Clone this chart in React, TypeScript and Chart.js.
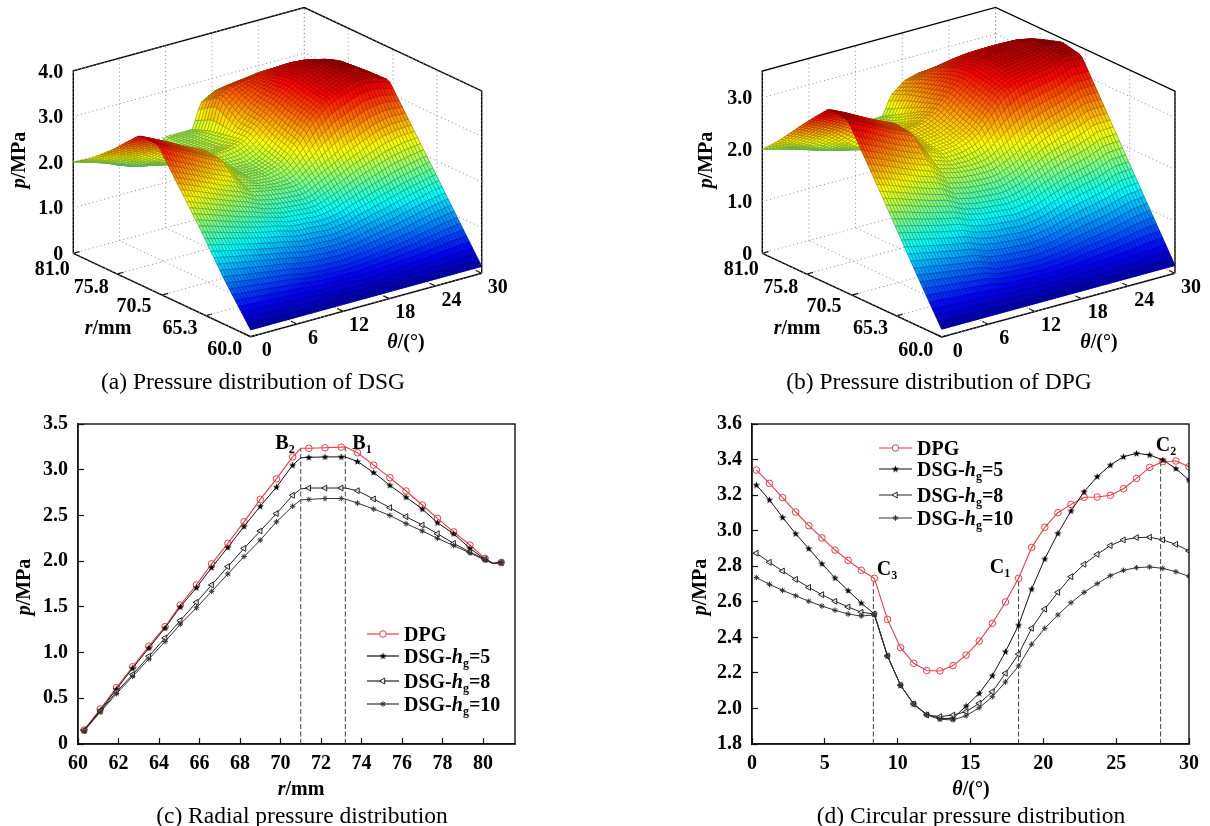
import React, { useEffect, useRef } from 'react';
import { Chart, registerables } from 'chart.js';
import { drawPoint } from 'chart.js/helpers';

Chart.register(...registerables);

// ---------- Panels (c) radial pressure ----------
const radialR = [60.3, 61.1, 61.9, 62.7, 63.5, 64.3, 65.05, 65.85, 66.6, 67.4, 68.2, 69, 69.8, 70.6, 71, 71.4, 72.2, 73, 73.2, 73.8, 74.6, 75.4, 76.2, 77, 77.75, 78.55, 79.35, 80.1, 80.5, 80.9];
const radialKnots = [71, 73.2, 80.5];
const radialDPG = [0.153, 0.383, 0.616, 0.845, 1.07, 1.283, 1.52, 1.74, 1.97, 2.195, 2.43, 2.676, 2.9, 3.14, 3.234, 3.234, 3.24, 3.247, 3.25, 3.186, 3.05, 2.913, 2.767, 2.614, 2.468, 2.32, 2.177, 2.03, 1.976, 1.985];
const radialH5 = [0.15, 0.37, 0.6, 0.83, 1.05, 1.27, 1.5, 1.71, 1.93, 2.15, 2.38, 2.6, 2.81, 3.05, 3.13, 3.135, 3.14, 3.14, 3.14, 3.09, 2.97, 2.83, 2.7, 2.57, 2.42, 2.3, 2.14, 2.02, 1.975, 1.985];
const radialH8 = [0.15, 0.36, 0.57, 0.76, 0.96, 1.16, 1.35, 1.55, 1.74, 1.94, 2.14, 2.33, 2.52, 2.72, 2.79, 2.8, 2.8, 2.8, 2.8, 2.77, 2.68, 2.585, 2.486, 2.395, 2.3, 2.195, 2.1, 2.02, 1.975, 1.985];
const radialH10 = [0.14, 0.35, 0.55, 0.74, 0.93, 1.12, 1.31, 1.49, 1.67, 1.86, 2.05, 2.23, 2.43, 2.6, 2.67, 2.675, 2.685, 2.685, 2.68, 2.635, 2.57, 2.5, 2.41, 2.33, 2.25, 2.17, 2.09, 2.01, 1.975, 1.985];

// ---------- Panel (d) circular pressure ----------
const circT = [0.3, 1.2, 2.1, 3, 3.9, 4.8, 5.7, 6.6, 7.5, 8.4, 9.3, 10.2, 11.1, 12, 12.9, 13.8, 14.7, 15.6, 16.5, 17.4, 18.3, 19.2, 20.1, 21, 21.9, 22.8, 23.7, 24.6, 25.5, 26.4, 27.3, 28.2, 29.1, 30];
const circDPG = [3.341, 3.266, 3.186, 3.105, 3.028, 2.959, 2.891, 2.833, 2.777, 2.732, 2.501, 2.342, 2.254, 2.213, 2.211, 2.241, 2.3, 2.379, 2.479, 2.599, 2.732, 2.906, 3.019, 3.101, 3.148, 3.188, 3.189, 3.199, 3.236, 3.294, 3.356, 3.388, 3.392, 3.36];
const circH5 = [3.257, 3.173, 3.075, 2.983, 2.899, 2.814, 2.734, 2.663, 2.593, 2.531, 2.295, 2.13, 2.025, 1.967, 1.944, 1.944, 2.014, 2.085, 2.184, 2.319, 2.469, 2.672, 2.841, 2.985, 3.111, 3.219, 3.304, 3.369, 3.416, 3.435, 3.426, 3.398, 3.349, 3.285];
const circH8 = [2.873, 2.822, 2.773, 2.726, 2.681, 2.64, 2.603, 2.571, 2.541, 2.531, 2.295, 2.13, 2.025, 1.963, 1.954, 1.963, 1.982, 2.029, 2.094, 2.198, 2.306, 2.451, 2.559, 2.653, 2.741, 2.811, 2.867, 2.916, 2.948, 2.961, 2.963, 2.948, 2.923, 2.886];
const circH10 = [2.736, 2.698, 2.664, 2.634, 2.603, 2.576, 2.552, 2.531, 2.52, 2.526, 2.295, 2.13, 2.025, 1.963, 1.939, 1.935, 1.959, 2.004, 2.066, 2.149, 2.239, 2.361, 2.451, 2.526, 2.595, 2.653, 2.702, 2.747, 2.777, 2.792, 2.796, 2.788, 2.769, 2.743];

// ---------- Panels (a), (b) surfaces: p[r][theta] ----------
const surfTheta = [0, 2, 4, 6, 8.3, 10, 12, 14, 15.5, 16.5, 18.3, 20, 22, 24, 26, 28, 30];
const surfR = [60, 63, 66, 69, 71, 73.2, 75, 76.5, 79, 81];
const surfDSG = [
  [0.15, 0.15, 0.15, 0.15, 0.15, 0.15, 0.15, 0.15, 0.15, 0.15, 0.15, 0.15, 0.15, 0.15, 0.15, 0.15, 0.15],
  [0.95, 0.9, 0.85, 0.8, 0.75, 0.68, 0.64, 0.62, 0.62, 0.63, 0.66, 0.7, 0.75, 0.8, 0.88, 0.95, 1.0],
  [1.85, 1.75, 1.65, 1.55, 1.45, 1.4, 1.3, 1.28, 1.25, 1.25, 1.3, 1.4, 1.5, 1.6, 1.7, 1.78, 1.86],
  [2.69, 2.55, 2.4, 2.25, 2.1, 1.92, 1.85, 1.8, 1.78, 1.82, 2.0, 2.15, 2.35, 2.5, 2.65, 2.72, 2.71],
  [3.26, 3.08, 2.9, 2.72, 2.53, 2.13, 1.97, 1.95, 2.02, 2.12, 2.47, 2.85, 3.15, 3.3, 3.42, 3.4, 3.28],
  [3.26, 3.1, 2.93, 2.75, 2.58, 2.2, 2.02, 2.0, 2.1, 2.25, 2.6, 2.95, 3.22, 3.38, 3.5, 3.48, 3.26],
  [2.93, 2.78, 2.62, 2.45, 2.3, 2.2, 2.15, 2.2, 2.3, 2.45, 2.75, 3.05, 3.3, 3.45, 3.52, 3.45, 3.2],
  [2.65, 2.5, 2.35, 2.15, 1.95, 2.0, 2.05, 2.1, 2.25, 2.45, 2.8, 3.05, 3.25, 3.38, 3.42, 3.35, 3.17],
  [2.25, 2.1, 1.95, 1.8, 1.72, 1.85, 2.0, 2.05, 2.15, 2.8, 3.0, 3.05, 3.08, 3.12, 3.15, 3.12, 3.02],
  [2.0, 1.9, 1.8, 1.65, 1.55, 1.75, 2.0, 2.0, 2.0, 2.53, 2.71, 2.76, 2.8, 2.85, 2.85, 2.85, 2.85],
];
const surfDPG = [
  [0.15, 0.15, 0.15, 0.15, 0.15, 0.15, 0.15, 0.15, 0.15, 0.15, 0.15, 0.15, 0.15, 0.15, 0.15, 0.15, 0.15],
  [1.0, 0.95, 0.9, 0.85, 0.8, 0.7, 0.66, 0.64, 0.63, 0.64, 0.67, 0.72, 0.78, 0.83, 0.9, 0.98, 1.02],
  [1.89, 1.81, 1.72, 1.64, 1.56, 1.45, 1.38, 1.35, 1.32, 1.33, 1.38, 1.48, 1.6, 1.68, 1.75, 1.88, 1.9],
  [2.76, 2.64, 2.51, 2.38, 2.26, 2.05, 1.98, 1.95, 1.95, 1.98, 2.1, 2.25, 2.42, 2.55, 2.65, 2.78, 2.78],
  [3.34, 3.19, 3.03, 2.88, 2.73, 2.35, 2.21, 2.24, 2.33, 2.42, 2.73, 3.0, 3.15, 3.2, 3.24, 3.38, 3.36],
  [3.38, 3.24, 3.08, 2.93, 2.78, 2.42, 2.3, 2.35, 2.45, 2.55, 2.85, 3.1, 3.28, 3.33, 3.36, 3.46, 3.44],
  [3.07, 2.92, 2.77, 2.6, 2.42, 2.35, 2.35, 2.42, 2.55, 2.7, 2.95, 3.15, 3.3, 3.35, 3.36, 3.42, 3.34],
  [2.8, 2.65, 2.5, 2.25, 2.0, 2.1, 2.2, 2.3, 2.45, 2.62, 2.9, 3.1, 3.22, 3.28, 3.3, 3.32, 3.25],
  [2.33, 2.2, 2.05, 1.9, 1.8, 1.9, 2.0, 2.05, 2.2, 2.5, 2.75, 2.9, 2.98, 3.02, 3.03, 3.03, 3.0],
  [2.0, 1.92, 1.84, 1.75, 1.65, 1.8, 2.0, 2.0, 2.01, 2.36, 2.58, 2.65, 2.66, 2.68, 2.7, 2.72, 2.73],
];
const rTicks = [60, 65.3, 70.5, 75.8, 81];
const rTickLabels = ['60.0', '65.3', '70.5', '75.8', '81.0'];
const thetaTicks = [0, 6, 12, 18, 24, 30];
const pTicksA = [0, 1, 2, 3, 4];
const pTicksB = [0, 1, 2, 3];
const legendNames = ['DPG', 'DSG-hg=5', 'DSG-hg=8', 'DSG-hg=10'];

const SERIF = '"Liberation Serif"';
type Run = { t: string; i?: boolean; sub?: boolean };

function runFont(r: Run, size: number, weight: string) {
  return `${r.i ? 'italic ' : ''}${weight} ${r.sub ? Math.round(size * 0.62) : size}px ${SERIF}`;
}
function drawRich(ctx: any, runs: Run[], x: number, y: number, o: { size?: number; weight?: string; align?: string; rot?: number } = {}) {
  const size = o.size ?? 20;
  const weight = o.weight ?? 'bold';
  ctx.save();
  ctx.fillStyle = '#000';
  ctx.textBaseline = 'alphabetic';
  ctx.textAlign = 'left';
  let w = 0;
  for (const r of runs) {
    ctx.font = runFont(r, size, weight);
    w += ctx.measureText(r.t).width;
  }
  ctx.translate(x, y);
  if (o.rot) ctx.rotate(o.rot);
  let cx = o.align === 'left' ? 0 : -w / 2;
  const base = size * 0.33;
  for (const r of runs) {
    ctx.font = runFont(r, size, weight);
    ctx.fillText(r.t, cx, base + (r.sub ? size * 0.22 : 0));
    cx += ctx.measureText(r.t).width;
  }
  ctx.restore();
}

function jet(t: number) {
  const v = Math.max(0, Math.min(1, t));
  const c = (x: number) => Math.round(255 * Math.max(0, Math.min(1, 1.5 - Math.abs(x))));
  return `rgb(${c(4 * v - 3)},${c(4 * v - 2)},${c(4 * v - 1)})`;
}

function bilinear(P: number[][], th: number, r: number) {
  let i = 0;
  while (i < surfR.length - 2 && r > surfR[i + 1]) i++;
  let j = 0;
  while (j < surfTheta.length - 2 && th > surfTheta[j + 1]) j++;
  const u = (r - surfR[i]) / (surfR[i + 1] - surfR[i]);
  const v = (th - surfTheta[j]) / (surfTheta[j + 1] - surfTheta[j]);
  return (1 - u) * ((1 - v) * P[i][j] + v * P[i][j + 1]) + u * ((1 - v) * P[i + 1][j] + v * P[i + 1][j + 1]);
}

type Rich = { runs: Run[]; x: number; y: number; size?: number; weight?: string; align?: string; rot?: number };

function surfaceConfig(cfg: any) {
  const { left, top, width, height, O, vT, vR, pPx, P, pTop, pTicks, cmax, texts } = cfg;
  const proj = (th: number, r: number, p: number) => ({
    x: O[0] + (th / 30) * vT[0] + ((r - 60) / 21) * vR[0],
    y: O[1] + (th / 30) * vT[1] + ((r - 60) / 21) * vR[1] - p * pPx,
  });
  const seg = (pts: any[], color: string, w: number, dash: number[] = []) => ({
    type: 'scatter', showLine: true, data: pts, borderColor: color, borderWidth: w, borderDash: dash, pointRadius: 0, order: 5,
  });
  const ds: any[] = [];
  const G = '#888';
  const D = [1, 3];
  for (const th of thetaTicks) {
    ds.push(seg([proj(th, 81, 0), proj(th, 81, pTop)], G, 1, D));
    ds.push(seg([proj(th, 60, 0), proj(th, 81, 0)], G, 1, D));
  }
  for (const r of rTicks) {
    ds.push(seg([proj(30, r, 0), proj(30, r, pTop)], G, 1, D));
    ds.push(seg([proj(0, r, 0), proj(30, r, 0)], G, 1, D));
  }
  for (const p of pTicks) {
    if (p === 0) continue;
    ds.push(seg([proj(0, 81, p), proj(30, 81, p)], G, 1, D));
    ds.push(seg([proj(30, 60, p), proj(30, 81, p)], G, 1, D));
  }
  ds.push(seg([proj(0, 81, 0), proj(0, 60, 0), proj(30, 60, 0)], '#000', 1.4));
  ds.push(seg([proj(0, 81, 0), proj(0, 81, pTop), proj(30, 81, pTop), proj(30, 60, pTop), proj(30, 60, 0)], '#000', 1.4));
  for (const th of thetaTicks) ds.push(seg([proj(th, 60, 0), proj(th, 60.7, 0)], '#000', 1.2));
  for (const r of rTicks) ds.push(seg([proj(0, r, 0), proj(0.8, r, 0)], '#000', 1.2));
  const nodes: any[] = [];
  surfR.forEach((r, i) => surfTheta.forEach((th, j) => nodes.push(proj(th, r, P[i][j]))));
  ds.push({ type: 'scatter', label: 'p', data: nodes, pointRadius: 0, showLine: false, order: 6 });

  const rOffsets = [[-26, 12], [-26, 12], [-28, 10], [-26, 12], [-21, 15]];
  const plugin = {
    id: 'surface3d',
    afterDatasetsDraw(chart: any) {
      const { ctx, scales } = chart;
      const px = (th: number, r: number, p: number) => {
        const q = proj(th, r, p);
        return [scales.x.getPixelForValue(q.x), scales.y.getPixelForValue(q.y)];
      };
      const nT = 72, nR = 58;
      ctx.save();
      for (let a = nR - 1; a >= 0; a--) {
        const r0 = 60 + (21 * a) / nR, r1 = 60 + (21 * (a + 1)) / nR;
        for (let b = nT - 1; b >= 0; b--) {
          const t0 = (30 * b) / nT, t1 = (30 * (b + 1)) / nT;
          const p00 = bilinear(P, t0, r0), p01 = bilinear(P, t1, r0), p10 = bilinear(P, t0, r1), p11 = bilinear(P, t1, r1);
          const A = px(t0, r0, p00), B = px(t1, r0, p01), C = px(t1, r1, p11), E = px(t0, r1, p10);
          const col = jet((p00 + p01 + p10 + p11) / 4 / cmax);
          ctx.beginPath();
          ctx.moveTo(A[0], A[1]); ctx.lineTo(B[0], B[1]); ctx.lineTo(C[0], C[1]); ctx.lineTo(E[0], E[1]); ctx.closePath();
          ctx.fillStyle = col; ctx.fill();
          ctx.strokeStyle = col; ctx.lineWidth = 0.8; ctx.stroke();
          ctx.strokeStyle = 'rgba(0,0,0,0.45)'; ctx.lineWidth = 0.6; ctx.stroke();
        }
      }
      ctx.restore();
      for (const s of texts as Rich[]) drawRich(ctx, s.runs, scales.x.getPixelForValue(s.x), scales.y.getPixelForValue(s.y), s);
      rTicks.forEach((r, i) => {
        const q = proj(0, r, 0);
        drawRich(ctx, [{ t: rTickLabels[i] }], scales.x.getPixelForValue(q.x + rOffsets[i][0]), scales.y.getPixelForValue(q.y + rOffsets[i][1]));
      });
      thetaTicks.forEach((t) => {
        const q = proj(t, 60, 0);
        drawRich(ctx, [{ t: String(t) }], scales.x.getPixelForValue(q.x + 16), scales.y.getPixelForValue(q.y + 13));
      });
      (pTicks as number[]).forEach((p) => {
        const q = proj(0, 81, p);
        const lab = p === 0 ? '0' : p.toFixed(1);
        ctx.save();
        ctx.font = `bold 20px ${SERIF}`;
        const w = ctx.measureText(lab).width;
        ctx.restore();
        drawRich(ctx, [{ t: lab }], scales.x.getPixelForValue(q.x - 10) - w / 2, scales.y.getPixelForValue(q.y));
      });
    },
  };
  return {
    left, top, width, height,
    config: {
      type: 'scatter',
      data: { datasets: ds },
      options: {
        animation: false, responsive: false,
        layout: { padding: 0 },
        plugins: { legend: { display: false }, tooltip: { enabled: false } },
        scales: {
          x: { type: 'linear', display: false, min: left, max: left + width },
          y: { type: 'linear', display: false, min: top, max: top + height, reverse: true },
        },
      },
      plugins: [plugin],
    },
  };
}

function markerStar() {
  const c = document.createElement('canvas');
  c.width = 9; c.height = 9;
  const g = c.getContext('2d')!;
  g.beginPath();
  for (let k = 0; k < 10; k++) {
    const rad = k % 2 ? 1.6 : 3.8;
    const a = -Math.PI / 2 + (k * Math.PI) / 5;
    g.lineTo(4.5 + rad * Math.cos(a), 4.7 + rad * Math.sin(a));
  }
  g.closePath();
  g.fillStyle = '#000';
  g.fill();
  return c;
}

function lineConfig(cfg: any) {
  const { left, top, width, height, plot, xs, series, knots, xOpts, yOpts, vlines, texts, legend, yFmt } = cfg;
  const star = markerStar();
  const styles = [
    { color: '#ef3b45', pointStyle: 'circle', radius: 3.3, rotation: 0, bg: 'rgba(255,255,255,0)', bw: 1, lw: 1.1 },
    { color: '#111', pointStyle: star, radius: 3.5, rotation: 0, bg: '#000', bw: 1, lw: 1 },
    { color: '#222', pointStyle: 'triangle', radius: 3.4, rotation: -90, bg: 'rgba(255,255,255,0.6)', bw: 1, lw: 1 },
    { color: '#333', pointStyle: 'star', radius: 2.8, rotation: 0, bg: '#333', bw: 1, lw: 1 },
  ];
  const ds: any[] = series.map((ys: number[], k: number) => ({
    type: 'scatter', showLine: true, label: legendNames[k],
    data: xs.map((x: number, i: number) => ({ x, y: ys[i] })),
    borderColor: styles[k].color, borderWidth: styles[k].lw,
    pointStyle: styles[k].pointStyle, pointRotation: styles[k].rotation,
    pointRadius: (c: any) => (knots.includes(c.raw?.x) ? 0 : styles[k].radius),
    pointBorderColor: styles[k].color, pointBackgroundColor: styles[k].bg, pointBorderWidth: styles[k].bw,
    order: 4 - k + 1,
  }));
  for (const v of vlines) {
    ds.push({ type: 'scatter', showLine: true, label: 'guide', data: [{ x: v[0], y: v[1] }, { x: v[0], y: v[2] }], borderColor: '#444', borderWidth: 1, borderDash: [5, 2.5], pointRadius: 0, order: 9 });
  }
  const plugin = {
    id: 'panelDecor',
    afterDraw(chart: any) {
      const { ctx, chartArea: a } = chart;
      ctx.save();
      ctx.strokeStyle = '#111';
      ctx.lineWidth = 1.4;
      ctx.strokeRect(a.left, a.top, a.right - a.left, a.bottom - a.top);
      ctx.restore();
      for (const s of texts as Rich[]) drawRich(ctx, s.runs, s.x - left, s.y - top, s);
      legend.rows.forEach((yy: number, k: number) => {
        const st = styles[k];
        const y0 = yy - top;
        ctx.save();
        ctx.strokeStyle = st.color;
        ctx.lineWidth = 1.2;
        ctx.beginPath();
        ctx.moveTo(legend.x0 - left, y0);
        ctx.lineTo(legend.x1 - left, y0);
        ctx.stroke();
        ctx.fillStyle = st.bg === 'rgba(255,255,255,0)' || k === 2 ? '#fff' : st.bg;
        ctx.lineWidth = 1;
        drawPoint(ctx, { pointStyle: st.pointStyle, radius: st.radius, rotation: st.rotation, borderWidth: 1 }, (legend.x0 + legend.x1) / 2 - left, y0);
        ctx.restore();
        const name = k === 0 ? [{ t: 'DPG' }] : [{ t: 'DSG-' }, { t: 'h', i: true }, { t: 'g', sub: true }, { t: '=' + ['', '5', '8', '10'][k] }];
        drawRich(ctx, name, legend.tx - left, y0, { align: 'left', size: 20 });
      });
    },
  };
  const tickFont = { family: SERIF, size: 20, weight: 'bold' as const };
  const gridCommon = { drawOnChartArea: false, drawTicks: true, tickLength: -6, tickColor: '#111', tickWidth: 1.2 };
  return {
    left, top, width, height,
    config: {
      type: 'scatter',
      data: { datasets: ds },
      options: {
        animation: false, responsive: false,
        layout: { padding: { left: 0, top: plot.top - top, right: left + width - plot.right, bottom: 0 } },
        plugins: { legend: { display: false }, tooltip: { enabled: false } },
        scales: {
          x: {
            type: 'linear', ...xOpts, grid: gridCommon, border: { color: '#111', width: 1.4 },
            ticks: { stepSize: xOpts.step, includeBounds: false, maxRotation: 0, autoSkip: false, color: '#000', font: tickFont, padding: 14 },
            afterFit(s: any) { s.height = top + height - plot.bottom; s.paddingLeft = 0; s.paddingRight = 0; },
          },
          y: {
            type: 'linear', ...yOpts, grid: gridCommon, border: { color: '#111', width: 1.4 },
            ticks: { stepSize: yOpts.step, autoSkip: false, color: '#000', font: tickFont, padding: 16, callback: yFmt },
            afterFit(s: any) { s.width = plot.left - left; s.paddingTop = 0; s.paddingBottom = 0; },
          },
        },
      },
      plugins: [plugin],
    },
  };
}

const fmtP = (v: number) => (v === 0 ? '0' : Number(v).toFixed(1));
const CAP = { size: 23.5, weight: 'normal' };

const panels = () => [
  surfaceConfig({
    left: 0, top: 0, width: 530, height: 400,
    O: [250.7, 336.7], vT: [231, -63.4], vR: [-177.4, -83.4], pPx: 45.6, P: surfDSG, pTop: 4, pTicks: pTicksA, cmax: 3.7,
    texts: [
      { runs: [{ t: 'p', i: true }, { t: '/MPa' }], x: 18, y: 160, rot: -Math.PI / 2 },
      { runs: [{ t: 'r', i: true }, { t: '/mm' }], x: 108, y: 327 },
      { runs: [{ t: 'θ', i: true }, { t: '/(°)' }], x: 406, y: 341 },
      { runs: [{ t: '(a) Pressure distribution of DSG' }], x: 253, y: 381, ...CAP },
    ],
  }),
  surfaceConfig({
    left: 680, top: 0, width: 530, height: 400,
    O: [941.7, 337], vT: [233.3, -63.7], vR: [-179.4, -83.7], pPx: 51.9, P: surfDPG, pTop: 3.51, pTicks: pTicksB, cmax: 3.6,
    texts: [
      { runs: [{ t: 'p', i: true }, { t: '/MPa' }], x: 705, y: 160, rot: -Math.PI / 2 },
      { runs: [{ t: 'r', i: true }, { t: '/mm' }], x: 797, y: 327 },
      { runs: [{ t: 'θ', i: true }, { t: '/(°)' }], x: 1099, y: 341 },
      { runs: [{ t: '(b) Pressure distribution of DPG' }], x: 939, y: 381, ...CAP },
    ],
  }),
  lineConfig({
    left: 0, top: 405, width: 540, height: 421,
    plot: { left: 78, right: 515, top: 424, bottom: 744 },
    xs: radialR, series: [radialDPG, radialH5, radialH8, radialH10], knots: radialKnots,
    xOpts: { min: 60, max: 81.58, step: 2 }, yOpts: { min: 0, max: 3.5, step: 0.5 }, yFmt: fmtP,
    vlines: [[71, 0, 3.23], [73.2, 0, 3.25]],
    legend: { x0: 367, x1: 399, tx: 404, rows: [634, 656, 681, 704] },
    texts: [
      { runs: [{ t: 'B' }, { t: '2', sub: true }], x: 285, y: 442 },
      { runs: [{ t: 'B' }, { t: '1', sub: true }], x: 362, y: 442 },
      { runs: [{ t: 'p', i: true }, { t: '/MPa' }], x: 23, y: 587, rot: -Math.PI / 2 },
      { runs: [{ t: 'r', i: true }, { t: '/mm' }], x: 301, y: 788 },
      { runs: [{ t: '(c) Radial pressure distribution' }], x: 302, y: 815, ...CAP },
    ],
  }),
  lineConfig({
    left: 680, top: 405, width: 530, height: 421,
    plot: { left: 752, right: 1189, top: 424, bottom: 744 },
    xs: circT, series: [circDPG, circH5, circH8, circH10], knots: [],
    xOpts: { min: 0, max: 30, step: 5 }, yOpts: { min: 1.8, max: 3.6, step: 0.2 }, yFmt: fmtP,
    vlines: [[8.33, 1.8, 2.73], [18.3, 1.8, 2.73], [28.05, 1.8, 3.39]],
    legend: { x0: 879, x1: 912, tx: 917, rows: [448, 469, 495, 518] },
    texts: [
      { runs: [{ t: 'C' }, { t: '3', sub: true }], x: 887, y: 568 },
      { runs: [{ t: 'C' }, { t: '1', sub: true }], x: 1000, y: 566 },
      { runs: [{ t: 'C' }, { t: '2', sub: true }], x: 1166, y: 444 },
      { runs: [{ t: 'p', i: true }, { t: '/MPa' }], x: 699, y: 587, rot: -Math.PI / 2 },
      { runs: [{ t: 'θ', i: true }, { t: '/(°)' }], x: 971, y: 788 },
      { runs: [{ t: '(d) Circular pressure distribution' }], x: 971, y: 815, ...CAP },
    ],
  }),
];

function Panel({ p }: { p: any }) {
  const ref = useRef<HTMLCanvasElement>(null);
  useEffect(() => {
    const chart = new Chart(ref.current as any, p.config);
    return () => chart.destroy();
  }, []);
  return (
    <canvas
      ref={ref}
      width={p.width}
      height={p.height}
      style={{ position: 'absolute', left: p.left, top: p.top, width: p.width, height: p.height, display: 'block' }}
    />
  );
}

export default function App() {
  const list = panels();
  return (
    <div style={{ position: 'absolute', left: 0, top: 0, width: 1210, height: 826, background: '#fff', overflow: 'hidden' }}>
      {list.map((p, i) => (
        <Panel key={i} p={p} />
      ))}
    </div>
  );
}
